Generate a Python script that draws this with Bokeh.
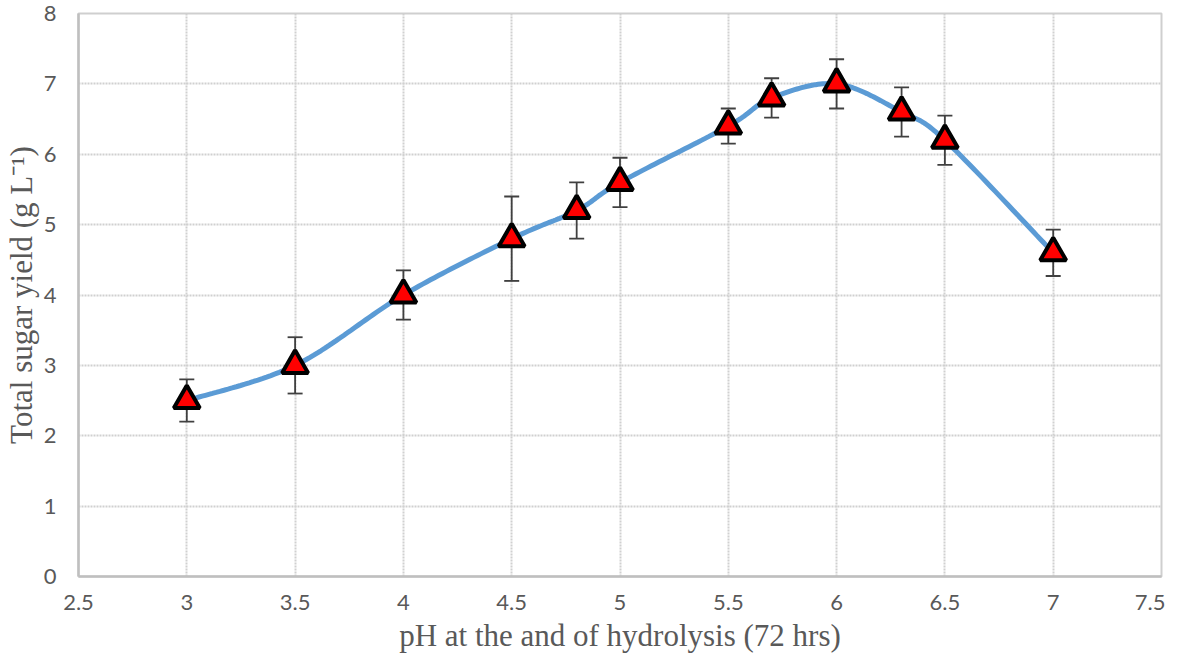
import numpy as np
from bokeh.plotting import figure
from bokeh.models import ColumnDataSource, Whisker, TeeHead, FixedTicker, Range1d
from bokeh.embed import file_html
from bokeh.resources import INLINE

# ---- data ----
ph = [3.0, 3.5, 4.0, 4.5, 4.8, 5.0, 5.5, 5.7, 6.0, 6.3, 6.5, 7.0]
sugar = [2.5, 3.0, 4.0, 4.8, 5.2, 5.6, 6.4, 6.8, 7.0, 6.6, 6.2, 4.6]
err = [0.3, 0.4, 0.35, 0.6, 0.4, 0.35, 0.25, 0.28, 0.35, 0.35, 0.35, 0.33]
x_ticks = [2.5, 3, 3.5, 4, 4.5, 5, 5.5, 6, 6.5, 7, 7.5]
x_tick_labels = ["2.5", "3", "3.5", "4", "4.5", "5", "5.5", "6", "6.5", "7", "7.5"]
y_ticks = [0, 1, 2, 3, 4, 5, 6, 7, 8]


def smooth_curve(xs, ys, n=30):
    # Bezier smoothing (Catmull-Rom style) through the data points, like a spreadsheet "smoothed line"
    P = np.column_stack([xs, ys]).astype(float)
    P = np.vstack([P[0], P, P[-1]])
    out = []
    for i in range(1, len(P) - 2):
        p0, p1, p2, p3 = P[i - 1], P[i], P[i + 1], P[i + 2]
        c1 = p1 + (p2 - p0) / 6.0
        c2 = p2 - (p3 - p1) / 6.0
        t = np.linspace(0, 1, n)[:, None]
        seg = ((1 - t) ** 3) * p1 + 3 * ((1 - t) ** 2) * t * c1 + 3 * (1 - t) * t ** 2 * c2 + t ** 3 * p2
        out.append(seg if i == 1 else seg[1:])
    c = np.vstack(out)
    return c[:, 0], c[:, 1]


cx, cy = smooth_curve(ph, sugar)

p = figure(width=1165, height=656, output_backend="svg", toolbar_location=None,
           x_range=Range1d(2.5, 7.5), y_range=Range1d(0, 8),
           min_border_left=62, min_border_right=4, min_border_top=13, min_border_bottom=80)

p.background_fill_color = "white"
p.border_fill_color = "white"
p.outline_line_color = "#cfcfcf"
p.outline_line_width = 2

p.xaxis.ticker = FixedTicker(ticks=x_ticks)
p.yaxis.ticker = FixedTicker(ticks=y_ticks)
p.xaxis.major_label_overrides = {t: l for t, l in zip(x_ticks, x_tick_labels)}

for ax in (p.xaxis[0], p.yaxis[0]):
    ax.major_tick_line_color = None
    ax.minor_tick_line_color = None
    ax.axis_line_color = "#bfbfbf"
    ax.axis_line_width = 2.5
    ax.major_label_text_font = "Lato"
    ax.major_label_text_font_size = "22px"
    ax.major_label_text_color = "#595959"
    ax.axis_label_text_font = "Liberation Serif"
    ax.axis_label_text_font_size = "31px"
    ax.axis_label_text_font_style = "normal"
    ax.axis_label_text_color = "#595959"

p.xaxis.axis_label = "pH at the and of hydrolysis (72 hrs)"
p.yaxis.axis_label = "Total sugar yield (g L\u207b\u00b9)"
p.xaxis.major_label_standoff = 12
p.yaxis.major_label_standoff = 16
p.xaxis.axis_label_standoff = 5
p.yaxis.axis_label_standoff = 2

for g in (p.xgrid[0], p.ygrid[0]):
    g.grid_line_color = "#d0d0d0"
    g.grid_line_width = 2
    g.grid_line_dash = "2 1"

src = ColumnDataSource(dict(x=ph, y=sugar,
                            lo=[v - e for v, e in zip(sugar, err)],
                            hi=[v + e for v, e in zip(sugar, err)]))

wh = Whisker(source=src, base="x", upper="hi", lower="lo", dimension="height",
             line_color="#404040", line_width=1.8,
             upper_head=TeeHead(size=15, line_color="#404040", line_width=1.8),
             lower_head=TeeHead(size=15, line_color="#404040", line_width=1.8))
p.add_layout(wh)

p.line(cx, cy, line_color="#5B9BD5", line_width=5)
p.scatter("x", "y", source=src, marker="triangle", size=26,
          fill_color="#FF0000", line_color="black", line_width=4)

open("out.html", "w").write(file_html(p, INLINE))
